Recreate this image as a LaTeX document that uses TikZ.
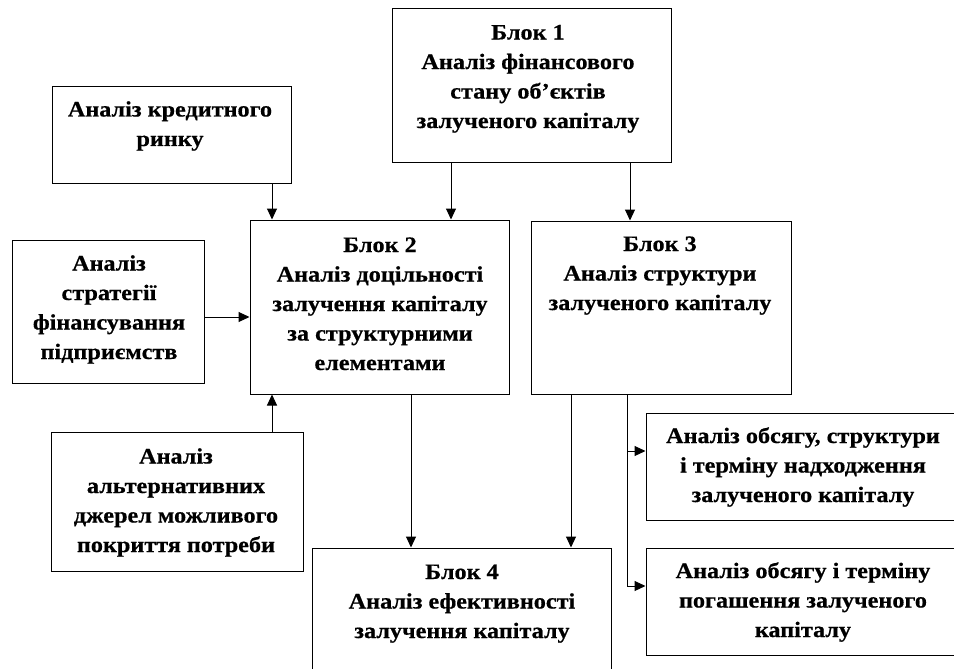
\documentclass[tikz,border=0pt]{standalone}
\usepackage{fontspec}
\setmainfont{Liberation Serif}
\newfontfamily\heavy{Liberation Serif}[UprightFont={* Bold}, FakeStretch=1.1, FakeBold=0.6]
\usetikzlibrary{arrows.meta}
\tikzset{
  box/.style={draw, line width=1pt, inner sep=0pt, rectangle},
  txt/.style={align=center, inner sep=0pt, anchor=base, font=\heavy\fontsize{22}{29.5}\selectfont},
  arr/.style={line width=1pt, -{Triangle[length=11pt,width=10pt]}},
  ln/.style={line width=1pt}
}
\begin{document}
\begin{tikzpicture}[x=1pt,y=-1pt]
\useasboundingbox (0,0) rectangle (954,669);
\clip (0,0) rectangle (954,669);
% boxes
\node[box, minimum width=279pt, minimum height=153pt] (b1) at (531.5,85.5) {};
\node[box, minimum width=239pt, minimum height=96pt] (cr) at (171.5,135) {};
\node[box, minimum width=192pt, minimum height=143pt] (st) at (108,311.5) {};
\node[box, minimum width=259pt, minimum height=174pt] (b2) at (379.5,307) {};
\node[box, minimum width=260pt, minimum height=173pt] (b3) at (661,307.5) {};
\node[box, minimum width=252pt, minimum height=139pt] (al) at (177,501.5) {};
\node[box, minimum width=299pt, minimum height=160pt] (b4) at (461.5,628) {};
\node[box, minimum width=316pt, minimum height=107pt] (r1) at (804,466.5) {};
\node[box, minimum width=316pt, minimum height=107pt] (r2) at (804,601.5) {};
% texts (anchored at the baseline of their last line)
\node[txt] (b1t) at (528,128) {Блок 1\\Аналіз фінансового\\стану об’єктів\\залученого капіталу};
\node[txt] (crt) at (170,146) {Аналіз кредитного\\ринку};
\node[txt] (stt) at (109,359) {Аналіз\\стратегії\\фінансування\\підприємств};
\node[txt] (b2t) at (380,370) {Блок 2\\Аналіз доцільності\\залучення капіталу\\за структурними\\елементами};
\node[txt] (b3t) at (660,310) {Блок 3\\Аналіз структури\\залученого капіталу};
\node[txt] (alt) at (176,552) {Аналіз\\альтернативних\\джерел можливого\\покриття потреби};
\node[txt] (b4t) at (462,638) {Блок 4\\Аналіз ефективності\\залучення капіталу};
\node[txt] (r1t) at (803,502) {Аналіз обсягу, структури\\і терміну надходження\\залученого капіталу};
\node[txt] (r2t) at (803,637) {Аналіз обсягу і терміну\\погашення залученого\\капіталу};
% connectors
\draw[arr] (cr.south -| 272,0) -- (b2.north -| 272,0);
\draw[arr] (b1.south -| 451,0) -- (b2.north -| 451,0);
\draw[arr] (b1.south -| 630,0) -- (b3.north -| 630,0);
\draw[arr] (st.east |- 0,317) -- (b2.west |- 0,317);
\draw[arr] (al.north -| 272,0) -- (b2.south -| 272,0);
\draw[arr] (b2.south -| 411,0) -- (b4.north -| 411,0);
\draw[arr] (b3.south -| 571,0) -- (b4.north -| 571,0);
\coordinate (j1) at (627,451);
\coordinate (j2) at (627,586);
\draw[ln] (b3.south -| j1) -- (j2);
\draw[arr] (j1) -- (r1.west |- j1);
\draw[arr] (j2) -- (r2.west |- j2);
\end{tikzpicture}
\end{document}
